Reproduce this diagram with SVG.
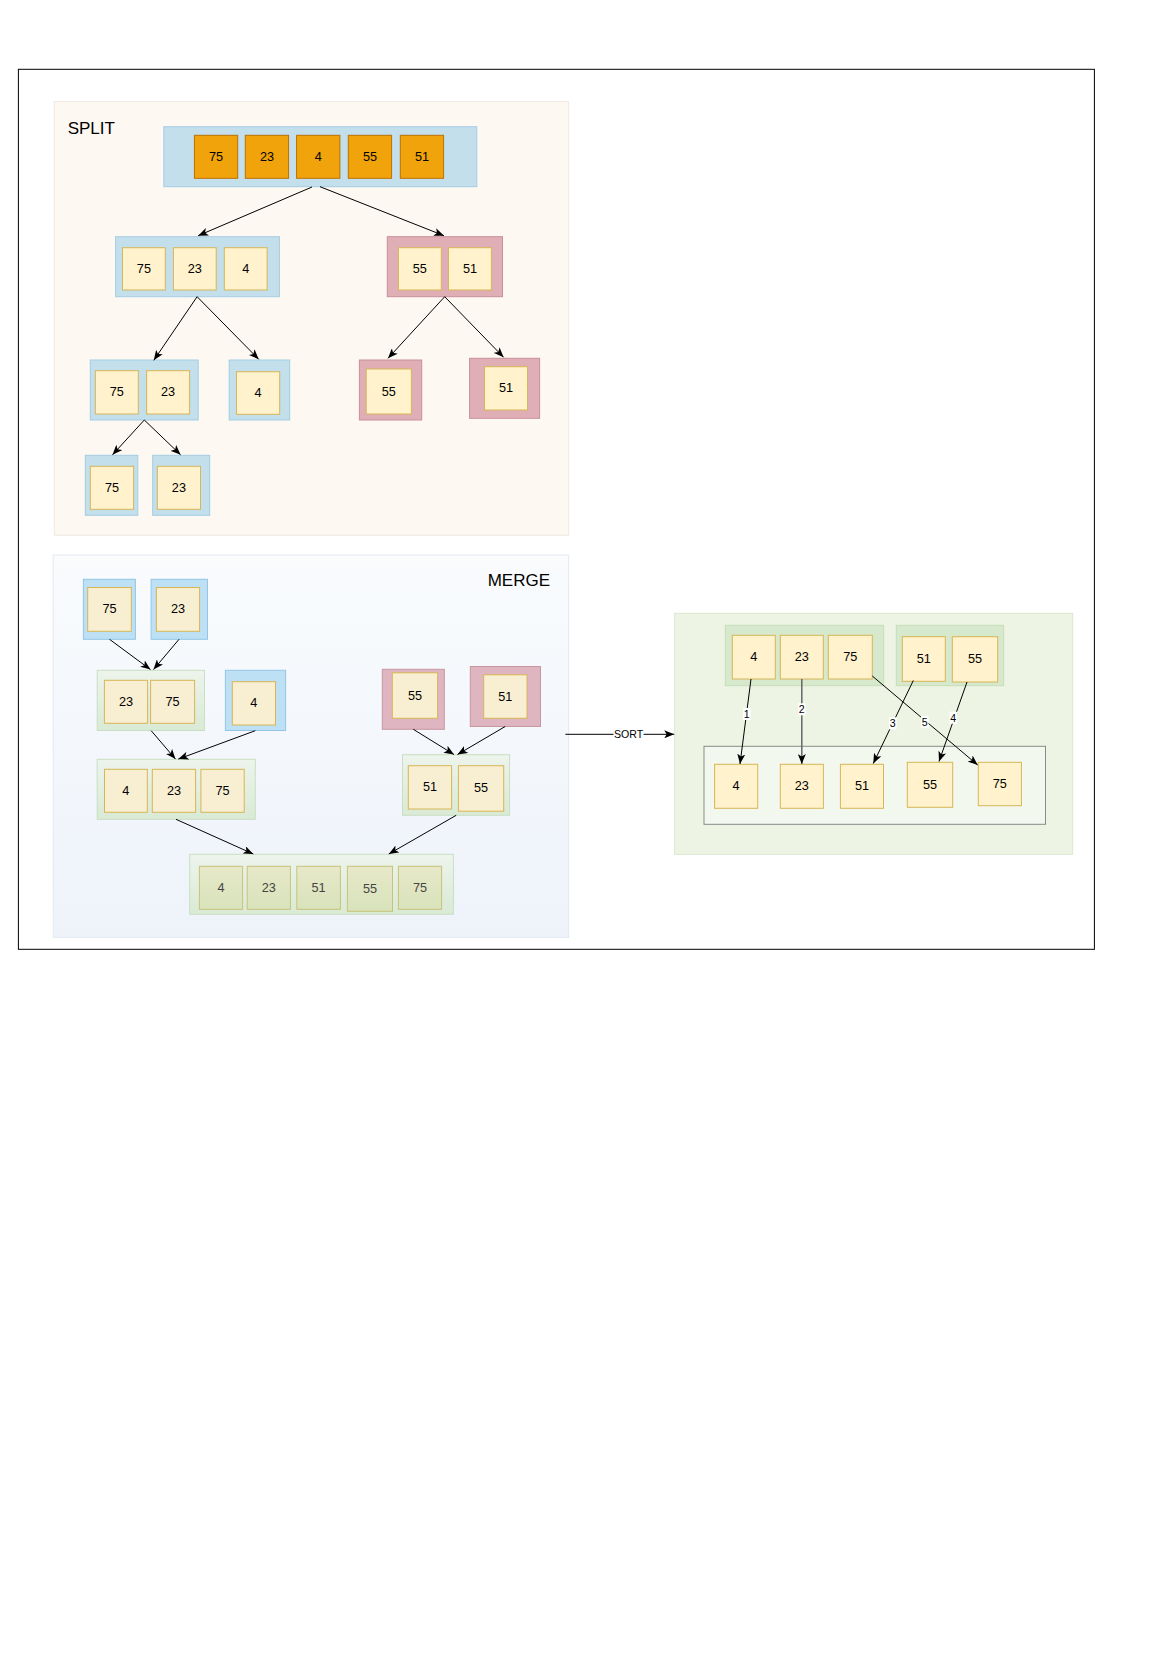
<svg xmlns="http://www.w3.org/2000/svg" width="1169" height="1654" viewBox="0 0 1169 1654">
<style>
text{font-family:"Liberation Sans",Arial,sans-serif;fill:#000}
.n{font-size:12.7px;text-anchor:middle;dominant-baseline:central}
.title{font-size:17px}
.lbl{font-size:10.6px;text-anchor:middle;dominant-baseline:central}
.or{fill:#f0a30a;stroke:#bd7000;stroke-width:1}
.cr{fill:#fff2cc;stroke:#d6b656;stroke-width:1}
.crm{fill:#f8efd2;stroke:#d6b656;stroke-width:1}
.fin{fill:url(#gFin);stroke:#c9c27a;stroke-width:1}
.fint{fill:#444}
.bl{fill:#c3dfec;stroke:#a3cde3;stroke-width:1}
.blm{fill:#bde0f4;stroke:#93c6e6;stroke-width:1}
.pk{fill:#e0afb6;stroke:#c98f98;stroke-width:1}
.pkm{fill:#dfb5c2;stroke:#c9969f;stroke-width:1}
.gr{fill:url(#gGrp);stroke:#c8dfc3;stroke-width:1}
.gs{fill:#d7e9cc;stroke:#c5debb;stroke-width:1}
.e{fill:none;stroke:#000;stroke-width:1;marker-end:url(#arr)}
.e2{fill:none;stroke:#666;stroke-width:1.5;marker-end:url(#arr)}
.lb{fill:#fff}
</style>
<defs>
<marker id="arr" markerUnits="userSpaceOnUse" markerWidth="11" markerHeight="8" refX="10" refY="4" orient="auto">
<path d="M0,0 L10,4 L0,8 L2.5,4 Z" fill="#000"/>
</marker>
<linearGradient id="gMerge" x1="0" y1="0" x2="0" y2="1"><stop offset="0" stop-color="#f9fbfd"/><stop offset="1" stop-color="#eef3fa"/></linearGradient>
<linearGradient id="gGrp" x1="0" y1="0" x2="0" y2="1"><stop offset="0" stop-color="#edf4ec"/><stop offset="1" stop-color="#d9ead5"/></linearGradient>
<linearGradient id="gFin" x1="0" y1="0" x2="0" y2="1"><stop offset="0" stop-color="#e7e8c8"/><stop offset="1" stop-color="#d8e3bb"/></linearGradient>
</defs>
<rect x="0" y="0" width="1169" height="1654" fill="#fff"/>
<rect id="page-border" x="18.4" y="69.3" width="1076" height="880" fill="none" stroke="#000" stroke-width="1"/>

<g id="split-container">
<rect x="54.3" y="101.7" width="514.4" height="433.6" fill="#fdf8f2" stroke="#efe9e2"/>
<text class="title" x="67.7" y="134">SPLIT</text>
</g>
<g id="split-l0">
<rect class="bl" x="163.8" y="126.7" width="313" height="60"/>
<rect class="or" x="194.4" y="135.3" width="43.3" height="43"/><text class="n" x="216.05" y="156.8">75</text>
<rect class="or" x="245.3" y="135.3" width="43.3" height="43"/><text class="n" x="266.95" y="156.8">23</text>
<rect class="or" x="296.6" y="135.3" width="43.3" height="43"/><text class="n" x="318.25" y="156.8">4</text>
<rect class="or" x="348.3" y="135.3" width="43.3" height="43"/><text class="n" x="369.95" y="156.8">55</text>
<rect class="or" x="400.3" y="135.3" width="43.3" height="43"/><text class="n" x="421.95" y="156.8">51</text>
</g>
<g id="split-l1-left">
<rect class="bl" x="115.6" y="236.7" width="163.8" height="60"/>
<rect class="cr" x="122.5" y="247.7" width="42.8" height="42.3"/><text class="n" x="143.9" y="268.85">75</text>
<rect class="cr" x="173.4" y="247.7" width="42.8" height="42.3"/><text class="n" x="194.8" y="268.85">23</text>
<rect class="cr" x="224.3" y="247.7" width="42.8" height="42.3"/><text class="n" x="245.7" y="268.85">4</text>
</g>
<g id="split-l1-right">
<rect class="pk" x="387.3" y="236.7" width="115.2" height="60"/>
<rect class="cr" x="398.4" y="247.7" width="42.9" height="42.3"/><text class="n" x="419.85" y="268.85">55</text>
<rect class="cr" x="448.5" y="247.7" width="42.9" height="42.3"/><text class="n" x="469.95" y="268.85">51</text>
</g>
<g id="split-l2-a">
<rect class="bl" x="90.3" y="360" width="107.9" height="60"/>
<rect class="cr" x="95.3" y="370.7" width="43" height="43.3"/><text class="n" x="116.8" y="392.35">75</text>
<rect class="cr" x="146.6" y="370.7" width="43" height="43.3"/><text class="n" x="168.1" y="392.35">23</text>
</g>
<g id="split-l2-b">
<rect class="bl" x="229.2" y="360" width="60.5" height="60"/>
<rect class="cr" x="236.5" y="371.7" width="43.2" height="42.6"/><text class="n" x="258.1" y="393">4</text>
</g>
<g id="split-l2-c">
<rect class="pk" x="359.4" y="360" width="62.3" height="60"/>
<rect class="cr" x="366.2" y="369" width="45.2" height="45"/><text class="n" x="388.8" y="391.5">55</text>
</g>
<g id="split-l2-d">
<rect class="pk" x="469.6" y="358.3" width="70" height="60"/>
<rect class="cr" x="484.5" y="366.7" width="43" height="43.3"/><text class="n" x="506" y="388.35">51</text>
</g>
<g id="split-l3-a">
<rect class="bl" x="85.3" y="455.3" width="52.5" height="60"/>
<rect class="cr" x="90.3" y="466.3" width="43.3" height="43"/><text class="n" x="111.95" y="487.8">75</text>
</g>
<g id="split-l3-b">
<rect class="bl" x="152.7" y="455.3" width="57" height="60"/>
<rect class="cr" x="157.3" y="466.3" width="43.2" height="43"/><text class="n" x="178.9" y="487.8">23</text>
</g>

<g id="merge-container">
<rect x="53.2" y="555" width="515.5" height="382.3" fill="url(#gMerge)" stroke="#e3e9f2"/>
<text class="title" x="550" y="586" text-anchor="end">MERGE</text>
</g>
<g id="merge-a">
<rect class="blm" x="83.4" y="579.3" width="52" height="60"/>
<rect class="crm" x="87.7" y="587.5" width="43.6" height="43.8"/><text class="n" x="109.5" y="609.4">75</text>
</g>
<g id="merge-b">
<rect class="blm" x="151.1" y="579.3" width="56.4" height="60"/>
<rect class="crm" x="156.4" y="587.5" width="43.2" height="43.8"/><text class="n" x="178" y="609.4">23</text>
</g>
<g id="merge-c">
<rect class="gr" x="97.2" y="670.3" width="107.3" height="60.2"/>
<rect class="crm" x="104.4" y="680.3" width="43.2" height="43"/><text class="n" x="126" y="701.8">23</text>
<rect class="crm" x="150.6" y="680.3" width="44" height="43"/><text class="n" x="172.6" y="701.8">75</text>
</g>
<g id="merge-d">
<rect class="blm" x="225.4" y="670.3" width="60.2" height="60.2"/>
<rect class="crm" x="232.3" y="681.7" width="43.2" height="43.3"/><text class="n" x="253.9" y="703.35">4</text>
</g>
<g id="merge-e">
<rect class="gr" x="97.2" y="759.3" width="158.1" height="60"/>
<rect class="crm" x="104.5" y="769.3" width="42.8" height="43"/><text class="n" x="125.9" y="790.8">4</text>
<rect class="crm" x="152.3" y="769.3" width="43.3" height="43"/><text class="n" x="173.95" y="790.8">23</text>
<rect class="crm" x="200.9" y="769.3" width="43.3" height="43"/><text class="n" x="222.55" y="790.8">75</text>
</g>
<g id="merge-f">
<rect class="pkm" x="382.3" y="669.3" width="62" height="60"/>
<rect class="crm" x="392.3" y="672.8" width="45.3" height="45.5"/><text class="n" x="414.95" y="695.55">55</text>
</g>
<g id="merge-g">
<rect class="pkm" x="470.3" y="666.5" width="70.2" height="60"/>
<rect class="crm" x="483.7" y="674.8" width="43.3" height="43.5"/><text class="n" x="505.35" y="696.55">51</text>
</g>
<g id="merge-h">
<rect class="gr" x="402.5" y="754.7" width="107.1" height="60.6"/>
<rect class="crm" x="408.3" y="765.7" width="43.3" height="43.3"/><text class="n" x="429.95" y="787.35">51</text>
<rect class="crm" x="458.4" y="765.7" width="45.3" height="45.5"/><text class="n" x="481.05" y="788.45">55</text>
</g>
<g id="merge-final">
<rect class="gr" x="189.7" y="854.3" width="263.7" height="60"/>
<rect class="fin" x="199.4" y="866.3" width="43.2" height="43"/><text class="n fint" x="221" y="887.8">4</text>
<rect class="fin" x="247.2" y="866.3" width="43.2" height="43"/><text class="n fint" x="268.8" y="887.8">23</text>
<rect class="fin" x="296.8" y="866.3" width="43.6" height="43"/><text class="n fint" x="318.6" y="887.8">51</text>
<rect class="fin" x="347.4" y="866.3" width="45.1" height="45"/><text class="n fint" x="369.95" y="888.8">55</text>
<rect class="fin" x="398.4" y="866.3" width="43.2" height="43"/><text class="n fint" x="420" y="887.8">75</text>
</g>

<g id="sort-container">
<rect x="674.6" y="613.3" width="398.1" height="241" fill="#eef4e4" stroke="#dbe8cf"/>
</g>
<g id="sort-left">
<rect class="gs" x="725.3" y="625.3" width="158.4" height="60.4"/>
<rect class="cr" x="732.3" y="635.3" width="43" height="43.7"/><text class="n" x="753.8" y="657.15">4</text>
<rect class="cr" x="780.3" y="635.3" width="43" height="43.7"/><text class="n" x="801.8" y="657.15">23</text>
<rect class="cr" x="828.3" y="635.3" width="44" height="43.7"/><text class="n" x="850.3" y="657.15">75</text>
</g>
<g id="sort-right">
<rect class="gs" x="896.3" y="625.3" width="107.4" height="60.4"/>
<rect class="cr" x="902.3" y="636.7" width="43" height="44.6"/><text class="n" x="923.8" y="659">51</text>
<rect class="cr" x="952.3" y="636.7" width="45.4" height="45.3"/><text class="n" x="975" y="659.35">55</text>
</g>
<g id="sort-result">
<rect x="704" y="746.3" width="341.5" height="78" fill="#f3f8ee" stroke="#8a8a8a"/>
<rect class="cr" x="714.6" y="764.3" width="43.1" height="44"/><text class="n" x="736.15" y="786.3">4</text>
<rect class="cr" x="780.3" y="764.3" width="43.1" height="44"/><text class="n" x="801.85" y="786.3">23</text>
<rect class="cr" x="840.4" y="764.3" width="43.1" height="44"/><text class="n" x="861.95" y="786.3">51</text>
<rect class="cr" x="907.3" y="762.3" width="45.4" height="45"/><text class="n" x="930" y="784.8">55</text>
<rect class="cr" x="978.3" y="762.3" width="43.1" height="43.4"/><text class="n" x="999.85" y="784">75</text>
</g>

<g id="connectors">
<line class="e" x1="312" y1="187" x2="198.2" y2="235.7"/>
<line class="e" x1="320" y1="186.7" x2="444" y2="235.7"/>
<line class="e" x1="197.1" y1="296.7" x2="153.8" y2="360.3"/>
<line class="e" x1="197.1" y1="296.7" x2="258.7" y2="359.3"/>
<line class="e" x1="444.7" y1="296.7" x2="388" y2="358.3"/>
<line class="e" x1="444.7" y1="296.7" x2="503.6" y2="357.3"/>
<line class="e" x1="144.3" y1="420" x2="112.5" y2="454.8"/>
<line class="e" x1="144.3" y1="420" x2="180.6" y2="454.8"/>

<line class="e" x1="109.5" y1="639.3" x2="150.5" y2="669.6"/>
<line class="e" x1="179" y1="639.3" x2="153.5" y2="669.6"/>
<line class="e" x1="151.2" y1="730.7" x2="175.5" y2="759.1"/>
<line class="e" x1="255.3" y1="730.7" x2="178.3" y2="759.1"/>
<line class="e" x1="413.3" y1="729.3" x2="454" y2="754.5"/>
<line class="e" x1="505.2" y1="726.5" x2="457.5" y2="754.5"/>
<line class="e" x1="176" y1="819.3" x2="253.3" y2="854"/>
<line class="e" x1="456.2" y1="815.3" x2="388.8" y2="854"/>

<line class="e" x1="565.4" y1="734.3" x2="674.2" y2="734.3"/>
<rect class="lb" x="613.5" y="728" width="30" height="12.5"/>
<text class="lbl" x="628.5" y="734.3">SORT</text>

<line class="e" x1="751" y1="679" x2="740" y2="764"/>
<line class="e2" x1="801.8" y1="679" x2="801.8" y2="764"/>
<line class="e" x1="913.3" y1="680.5" x2="873.3" y2="763.5"/>
<line class="e" x1="967" y1="682" x2="939" y2="761.5"/>
<line class="e" x1="872.3" y1="676" x2="977.7" y2="765"/>
<rect class="lb" x="743" y="708" width="7.5" height="12"/>
<text class="lbl" x="746.7" y="714">1</text>
<rect class="lb" x="798" y="703.3" width="7.5" height="12"/>
<text class="lbl" x="801.8" y="709.3">2</text>
<rect class="lb" x="889" y="717.3" width="7.5" height="12"/>
<text class="lbl" x="892.7" y="723.3">3</text>
<rect class="lb" x="949.5" y="711.7" width="7.5" height="12"/>
<text class="lbl" x="953.3" y="717.7">4</text>
<rect class="lb" x="921" y="716" width="7.5" height="12"/>
<text class="lbl" x="924.7" y="722">5</text>
</g>
</svg>
